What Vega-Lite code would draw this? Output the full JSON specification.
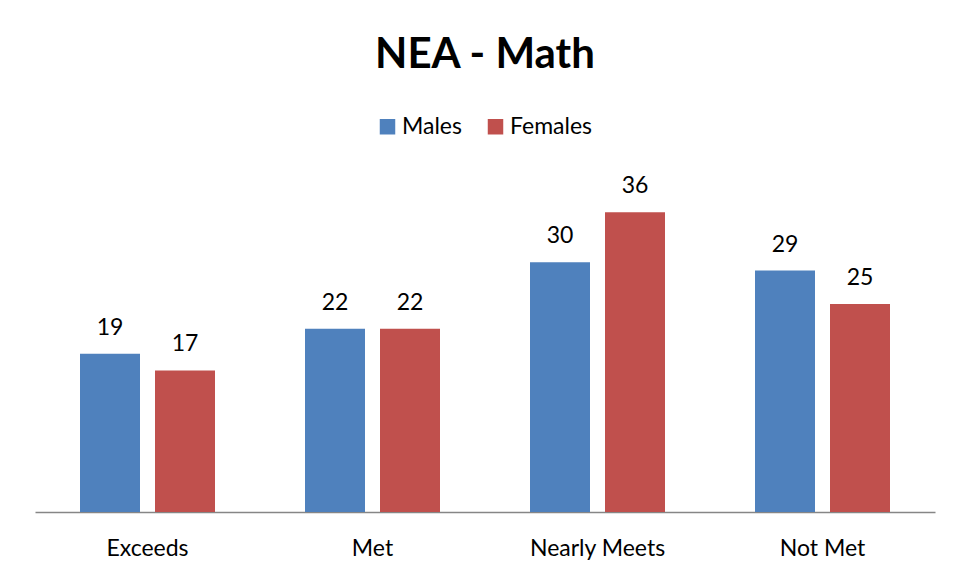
{
  "$schema": "https://vega.github.io/schema/vega-lite/v6.json",
  "width": 900,
  "height": 333,
  "autosize": {"type": "none"},
  "padding": {"left": 35, "top": 179, "right": 29, "bottom": 66},
  "background": "white",
  "config": {"view": {"stroke": null}, "font": "Lato"},
  "title": {"text": "NEA - Math", "font": "Lato", "fontSize": 42, "fontWeight": "bold", "color": "black", "anchor": "middle", "frame": "group", "baseline": "alphabetic", "offset": 5},
  "data": {"values": [
    {"category": "Exceeds", "group": "Males", "value": 19},
    {"category": "Exceeds", "group": "Females", "value": 17},
    {"category": "Met", "group": "Males", "value": 22},
    {"category": "Met", "group": "Females", "value": 22},
    {"category": "Nearly Meets", "group": "Males", "value": 30},
    {"category": "Nearly Meets", "group": "Females", "value": 36},
    {"category": "Not Met", "group": "Males", "value": 29},
    {"category": "Not Met", "group": "Females", "value": 25}
  ]},
  "encoding": {
    "x": {"field": "category", "type": "nominal", "sort": ["Exceeds", "Met", "Nearly Meets", "Not Met"],
      "scale": {"paddingInner": 0, "paddingOuter": 0},
      "axis": {"title": null, "ticks": false, "labelAngle": 0, "labelFont": "Lato", "labelFontSize": 23, "labelColor": "black", "labelBaseline": "alphabetic", "labelPadding": 43, "domainColor": "#868686", "domainWidth": 1.5}},
    "xOffset": {"field": "group", "type": "nominal", "sort": ["Males", "Females"], "scale": {"paddingInner": 0.2, "paddingOuter": 0.6}},
    "y": {"field": "value", "type": "quantitative", "scale": {"domain": [0, 40]}, "axis": null}
  },
  "layer": [
    {"mark": {"type": "bar"},
     "encoding": {"color": {"field": "group", "type": "nominal", "sort": ["Males", "Females"],
       "scale": {"domain": ["Males", "Females"], "range": ["#4F81BD", "#C0504D"]},
       "legend": {"title": null, "orient": "none", "direction": "horizontal", "legendX": 341, "legendY": -64, "padding": 0, "symbolType": "square", "symbolSize": 240, "symbolStrokeWidth": 0, "symbolOpacity": 1, "labelFont": "Lato", "labelFontSize": 23, "labelColor": "black", "columnPadding": 22, "labelOffset": 3}}}},
    {"mark": {"type": "text", "fontSize": 23, "font": "Lato", "color": "black", "baseline": "alphabetic", "dy": -19},
     "encoding": {"text": {"field": "value", "type": "quantitative"}}}
  ]
}
